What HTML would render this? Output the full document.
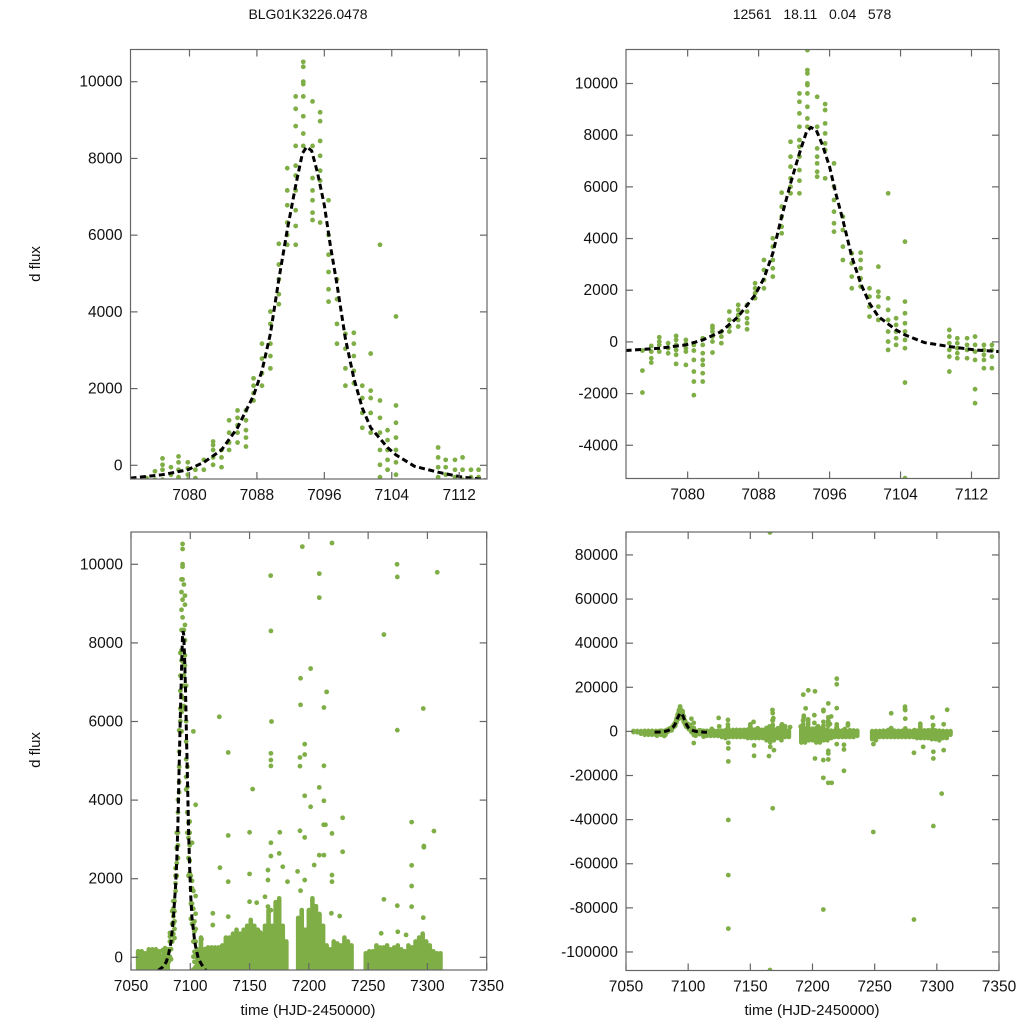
<!DOCTYPE html>
<html><head><meta charset="utf-8"><style>
html,body{margin:0;padding:0;background:#fff;width:1024px;height:1024px;overflow:hidden;}
svg{display:block;font-family:"Liberation Sans",Arial,sans-serif;overflow:hidden;}
</style></head><body>
<svg id="chart" width="1024" height="1024" viewBox="0 0 1024 1024" xmlns="http://www.w3.org/2000/svg">
<text x="308" y="19" text-anchor="middle" font-size="14" fill="#111">BLG01K3226.0478</text>
<text x="812" y="19" text-anchor="middle" font-size="14" fill="#111" xml:space="preserve">12561   18.11   0.04   578</text>
<text transform="translate(40,264) rotate(-90)" text-anchor="middle" font-size="15" fill="#111">d flux</text>
<text transform="translate(40,750) rotate(-90)" text-anchor="middle" font-size="15" fill="#111">d flux</text>
<text x="308" y="1015" text-anchor="middle" font-size="15" fill="#111">time (HJD-2450000)</text>
<text x="812" y="1015" text-anchor="middle" font-size="15" fill="#111">time (HJD-2450000)</text>
</svg>
<script>
// ---- event data (nightly groups near peak) ----
const eventTimes = [7074.9,7075.9,7076.8,7077.8,7078.7,7079.8,7080.7,7081.7,7082.8,7083.8,7084.7,7085.7,7086.7,7087.6,7088.6,7089.6,7090.6,7091.6,7092.6,7093.5,7094.6,7095.5,7096.5,7097.5,7098.5,7099.5,7100.5,7101.5,7102.6,7103.5,7104.5,7109.5,7110.4,7111.5,7112.4,7113.4,7114.3];
const eventFlux = [
[-335,-1110,-1960],[-155,-374,-632,-800],[180,13,-116,-374],[-50,-245,-440],[232,77,-116,-310,-500,-850],
[77,-77,-245,-374,-890],[-116,-335,-696,-1147,-1534,-2062],[142,-116,-438,-696,-890,-1212,-1534],[619,528,400,206,13,-412],[400,206,-50],
[1173,850,593,400],[1430,1237,1044,850,593],[1430,1173,915,722,490],[2268,2075,1882,1689],[3170,2784,2398,2075],
[4009,3687,3170,2849,2527],[5775,5234,4847,4460,4202],[7746,7167,6780,6329,6007,5749],[9616,9294,8843,8327,7811,7553,7167,6651,6239,5749],
[11292,10518,10390,10003,9939,9616,9100,8649,8327],[9487,8327,7489,7167,6909,6587,6393],[9203,8972,8456,8069,7682,7424,6329],
[6909,6007,5491,5040,4589,4267],[4847,4331,3687,3170],[3428,3041,2527,2075],[3454,3170,2849,2462,2140],[2075,1753,1366,979],
[2913,1946,1753,1366,850],[5749,1689,1237,850,400,13,-310],[915,657,400,142,-116],[3880,1560,1109,722,400,77,-245,-1573,-5272],
[464,206,-50,-310,-567,-1147],[142,-50,-245,-438,-632],[142,-116,-310,-632],[206,-116,-374,-696,-1830,-2372],
[-116,-310,-500,-696,-1018],[-116,-310,-567,-1018]];
// ---- model curve samples ----
const modelTimes = [7073,7076.8,7079.8,7081.7,7083.8,7085.7,7087.6,7088.6,7089.6,7090.6,7091.6,7092.6,7093.4,7093.9,7094.5,7095.2,7096.0,7096.7,7097.5,7098.5,7099.5,7100.5,7101.5,7103.5,7104.5,7106.7,7109.5,7112.4,7115.1];
const modelFlux = [-335,-245,-116,77,400,980,1817,2462,3430,4847,6136,7296,8134,8300,8198,7618,6780,5749,4718,3300,2268,1495,980,464,270,-26,-180,-310,-374];
// ---- season: nightly bins (time, upper, lower) ----
const binTimes = [7056,7059,7062,7065,7068,7071,7074,7078,7081,7106,7109,7112,7115,7118,7121,7124,7127,7130,7133,7136,7139,7142,7145,7148,7151,7154,7157,7160,7163,7166,7169,7172,7175,7178,7181,7191,7194,7197,7200,7203,7206,7209,7212,7215,7218,7221,7224,7227,7230,7233,7236,7248,7251,7254,7257,7260,7263,7266,7269,7272,7275,7278,7281,7284,7287,7290,7293,7296,7299,7302,7305,7308,7311];
const binHigh = [150,150,100,200,200,200,150,200,200,200,500,200,250,250,250,250,300,500,500,600,700,600,700,800,950,800,700,600,800,1200,800,1400,1500,800,400,1000,1200,700,1200,1500,1300,1100,800,300,200,400,350,300,500,400,300,100,150,150,300,250,250,300,200,250,300,200,150,300,250,400,500,600,400,300,150,100,100];
const binLow = [-300,-400,-1000,-1500,-1500,-1500,-1500,-1500,-1500,-2000,-1200,-1500,-2000,-2000,-2000,-2000,-2500,-3000,-2500,-2500,-2500,-2500,-2500,-3000,-3000,-3000,-3000,-3000,-4000,-5000,-4000,-3000,-3000,-2500,-2500,-5000,-5000,-4000,-4000,-5000,-5000,-4000,-4000,-3000,-2500,-2500,-2500,-2500,-2500,-2500,-2000,-3500,-3000,-2500,-2500,-2500,-2500,-2500,-2500,-2500,-2500,-2500,-2500,-3000,-3000,-3000,-3000,-3500,-3500,-4000,-3000,-3000,-1500];
// ---- season outliers ----
const outTimes = [7124.5,7132,7125,7132,7132,7132,7119,7119,7152.6,7150,7150,7150,7156,7167.8,7168,7168.5,7168,7168,7168,7168,7168,7165.5,7165.5,7175,7175.5,7178,7182,7163,7193,7193,7201.5,7192.5,7192.5,7196.5,7196.5,7196.5,7201.5,7192.5,7196.5,7190.5,7193,7196.5,7208.8,7208.8,7208.8,7212.7,7215,7212.7,7212.7,7212.5,7214,7219.5,7219.5,7228.5,7228.5,7204.5,7208.8,7212.7,7219.5,7219.5,7263.3,7274.6,7274.6,7263.3,7274.6,7286.7,7286.7,7286.7,7286.7,7296.5,7297,7297,7296.5,7305.5,7308.3,7282,7275,7261,7226,7219,7153,7159,7165.5,7168,
7165.8,7165.8,7132.3,7132.3,7132.3,7132.3,7132.3,7132.3,7168,7166,7169,7165,7153,7153,7175,7192.6,7196.6,7202,7194.5,7202,7208.7,7212.7,7215.4,7208.7,7208.7,7212.7,7212.7,7212.7,7212.7,7219.5,7219.5,7225.3,7225.3,7225.3,7219.5,7248.9,7274.4,7274.4,7281.6,7281.6,7289,7297.2,7297.2,7297.2,7303.9,7305.5,7291.7,7249,7251,7263.7];
const outFlux = [6119,5212,2280,3100,1924,1034,1120,820,4280,3180,2120,1415,1390,9712,8305,6000,5190,5020,4870,2915,2576,2220,1966,2644,3180,2305,1924,1540,7100,6424,7347,5085,4864,5424,5160,4110,3830,3220,3050,2186,1695,1966,9763,9152,4322,6356,6754,4873,3983,3373,3373,10542,3152,3550,2686,2347,2600,2600,2093,1924,8212,9678,5780,1475,1314,3440,2340,1813,1288,6330,2830,2800,1008,3212,9797,570,650,610,1050,1120,630,630,1290,1200,
90200,-108200,-40150,-65150,-89400,-13600,-7700,-5150,-34850,-7000,-8500,-11200,-11060,-6360,-4000,16670,18630,18180,10450,-12270,-21060,-23330,-23330,-80750,-13000,-12700,-10000,-8800,12700,23900,21360,-17880,-8180,-6060,-5760,-45600,11200,10000,-85300,-9700,-7000,-42900,-12270,-9240,-28200,-8500,-2400,-5760,-4000,-900];
// tick values
const ticksXZoom = [7080,7088,7096,7104,7112];
const ticksXSeason = [7050,7100,7150,7200,7250,7300,7350];
const ticksYTL = [0,2000,4000,6000,8000,10000];
const ticksYTR = [-4000,-2000,0,2000,4000,6000,8000,10000];
const ticksYBL = [0,2000,4000,6000,8000,10000];
const ticksYBR = [-100000,-80000,-60000,-40000,-20000,0,20000,40000,60000,80000];

const NS = 'http://www.w3.org/2000/svg';
const svg = document.getElementById('chart');
const GREEN = '#7fae47';
function mk(tag, attrs, parent){const e=document.createElementNS(NS,tag);for(const k in attrs)e.setAttribute(k,attrs[k]);parent.appendChild(e);return e;}

function panel(id, box, xd, yd, xt, yt, season){
  const sx = v => box.l + (v - xd[0]) / (xd[1] - xd[0]) * (box.r - box.l);
  const sy = v => box.b - (v - yd[0]) / (yd[1] - yd[0]) * (box.b - box.t);
  const inY = v => v >= yd[0] - 60 * (yd[1] - yd[0]) / 1000 && v <= yd[1] + 60 * (yd[1] - yd[0]) / 1000;
  const inX = v => v >= xd[0] - 0.5 && v <= xd[1] + 0.5;
  const clampY = v => Math.max(yd[0] - (yd[1] - yd[0]) * 0.01, Math.min(yd[1], v));
  const g = mk('g', {}, svg);
  
  
  const cp = mk('clipPath', {id: id + '-clip'}, g);
  mk('rect', {x: box.l, y: box.t, width: box.r - box.l, height: box.b - box.t}, cp);
  const plot = mk('g', {'clip-path': 'url(#' + id + '-clip)'}, g);
  
  
  if (season) {
    for (let i = 0; i < binTimes.length; i++) {
      const y1 = sy(clampY(binHigh[i])), y2 = sy(clampY(binLow[i]));
      const r = mk('rect', {x: sx(binTimes[i]) - 2.3, y: y1 - 2.4, width: 4.6, height: Math.max(0, y2 - y1) + 4.8, rx: 2.3, fill: GREEN}, plot);
      
      
    }
    for (let i = 0; i < outTimes.length; i++) {
      if (!inY(outFlux[i])) continue;
      const c = mk('circle', {cx: sx(outTimes[i]), cy: sy(outFlux[i]), r: 2.4, fill: GREEN}, plot);
      
      
    }
  }
  for (let i = 0; i < eventTimes.length; i++) {
    if (!inX(eventTimes[i])) continue;
    for (const f of eventFlux[i]) {
      if (!inY(f)) continue;
      const c = mk('circle', {cx: sx(eventTimes[i]), cy: sy(f), r: 2.4, fill: GREEN}, plot);
      
      
    }
  }
  let d = '';
  for (let i = 0; i < modelTimes.length; i++) d += (i ? 'L' : 'M') + sx(modelTimes[i]).toFixed(2) + ',' + sy(modelFlux[i]).toFixed(2);
  const p = mk('path', {d: d, fill: 'none', stroke: '#000', 'stroke-width': 3, 'stroke-dasharray': '6,3.5'}, plot);
  
  
  const fr = mk('rect', {x: box.l, y: box.t, width: box.r - box.l, height: box.b - box.t, fill: 'none', stroke: '#666', 'stroke-width': 1.2}, g);
  
  
  for (const v of xt) {
    const x = sx(v);
    mk('line', {x1: x, y1: box.b, x2: x, y2: box.b - 7, stroke: '#666', 'stroke-width': 1.2}, g);
    mk('line', {x1: x, y1: box.t, x2: x, y2: box.t + 7, stroke: '#666', 'stroke-width': 1.2}, g);
    const t = mk('text', {x: x, y: box.b + 21, 'text-anchor': 'middle', 'font-size': 15.5, fill: '#111'}, g);
    t.textContent = v;
    
    
  }
  for (const v of yt) {
    const y = sy(v);
    mk('line', {x1: box.l, y1: y, x2: box.l + 7, y2: y, stroke: '#666', 'stroke-width': 1.2}, g);
    mk('line', {x1: box.r, y1: y, x2: box.r - 7, y2: y, stroke: '#666', 'stroke-width': 1.2}, g);
    const t = mk('text', {x: box.l - 8, y: y + 5, 'text-anchor': 'end', 'font-size': 15.5, fill: '#111'}, g);
    t.textContent = v;
    
    
  }
}
panel('top-left', {l: 130.5, r: 487, t: 49.5, b: 479}, [7073, 7115.3], [-357, 10840], ticksXZoom, ticksYTL, false);
panel('top-right', {l: 626, r: 999, t: 49.5, b: 478.5}, [7073.05, 7115.1], [-5286, 11316], ticksXZoom, ticksYTR, false);
panel('bottom-left', {l: 131, r: 486.7, t: 532, b: 970}, [7050, 7350], [-323, 10822], ticksXSeason, ticksYBL, true);
panel('bottom-right', {l: 626, r: 999, t: 532, b: 970.5}, [7050, 7350], [-108400, 90400], ticksXSeason, ticksYBR, true);
</script>
</body></html>
